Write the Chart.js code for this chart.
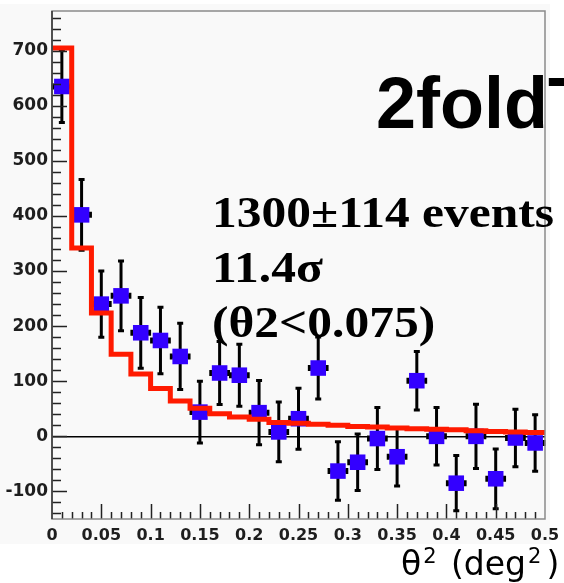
<!DOCTYPE html>
<html>
<head>
<meta charset="utf-8">
<script src="https://cdn.jsdelivr.net/npm/chart.js@4/dist/chart.umd.min.js"></script>
<style>
html,body{margin:0;padding:0;background:#ffffff;}
#wrap{width:564px;height:583px;position:relative;}
</style>
</head>
<body>
<div id="wrap"><canvas id="c" width="564" height="583"></canvas></div>
<script>
// ---- data ----
const binCenters = [0.01,0.03,0.05,0.07,0.09,0.11,0.13,0.15,0.17,0.19,0.21,0.23,0.25,0.27,0.29,0.31,0.33,0.35,0.37,0.39,0.41,0.43,0.45,0.47,0.49];
const counts     = [635,402,240,255,188,174,145,44,115,111,43,8,32,124,-63,-47,-4,-37,101,0,-85,0,-77,-3,-12];
const countErrs  = [67,66,62,65,66,62,62,58,59,58,60,56,57,58,55,53,58,55,55,54,52,60,56,54,53];
const binHalfWidth = 0.01;
const histEdges  = [0,0.02,0.04,0.06,0.08,0.10,0.12,0.14,0.16,0.18,0.20,0.22,0.24,0.26,0.28,0.30,0.32,0.34,0.36,0.38,0.40,0.42,0.44,0.46,0.48,0.50];
const histValues = [705,342,224,149,113,87,64,51,41,35,31,25,24,22,20,18,17,15,14,13,12,10,9,8,7];
const xTickLabels = ['0','0.05','0.1','0.15','0.2','0.25','0.3','0.35','0.4','0.45','0.5'];
const yTickLabels = ['-100','0','100','200','300','400','500','600','700'];
const titleText = '2foldT';
const infoLines = ['1300\u00b1114 events', '11.4\u03c3', '(\u03b82<0.075)'];
const axisTitleParts = ['\u03b8','2','(deg','2',')'];

// ---- build datasets ----
const pointData = binCenters.map((x,i)=>({x:x, y:counts[i]}));
const histData = histEdges.map((x,i)=>({x:x, y:histValues[Math.min(i, histValues.length-1)]}));

const bgPlugin = {
  id:'bg',
  beforeDraw(chart){
    const ctx = chart.ctx;
    ctx.save();
    ctx.fillStyle = '#ffffff';
    ctx.fillRect(0,0,chart.width,chart.height);
    ctx.fillStyle = '#f9f9f9';
    ctx.fillRect(0,4,550,540);
    ctx.restore();
  }
};

const errPlugin = {
  id:'errbars',
  beforeDatasetsDraw(chart){
    const ctx = chart.ctx, xs = chart.scales.x, ys = chart.scales.y;
    ctx.save();
    ctx.strokeStyle = '#000';
    ctx.lineWidth = 3;
    binCenters.forEach((xv,i)=>{
      const px = xs.getPixelForValue(xv);
      const py = ys.getPixelForValue(counts[i]);
      const top = ys.getPixelForValue(counts[i]+countErrs[i]);
      const bot = ys.getPixelForValue(counts[i]-countErrs[i]);
      const l = xs.getPixelForValue(xv-binHalfWidth);
      const r = xs.getPixelForValue(xv+binHalfWidth);
      ctx.beginPath();
      ctx.moveTo(px, top); ctx.lineTo(px, bot);
      ctx.moveTo(l, py); ctx.lineTo(r, py);
      ctx.moveTo(px-3, top+1); ctx.lineTo(px+3, top+1);
      ctx.moveTo(px-3, bot-1); ctx.lineTo(px+3, bot-1);
      ctx.moveTo(l+1, py-3); ctx.lineTo(l+1, py+3);
      ctx.moveTo(r-1, py-3); ctx.lineTo(r-1, py+3);
      ctx.stroke();
    });
    ctx.restore();
  }
};

const framePlugin = {
  id:'frame',
  afterDatasetsDraw(chart){
    const ctx = chart.ctx, a = chart.chartArea, xs = chart.scales.x, ys = chart.scales.y;
    ctx.save();
    ctx.strokeStyle = '#222';
    ctx.lineWidth = 1.5;
    ctx.beginPath();
    for (let v = -140; v <= 770; v += 20) {
      const py = Math.round(ys.getPixelForValue(v)) + 0.5;
      const len = (v % 100 === 0) ? 15 : 9;
      ctx.moveTo(a.left, py); ctx.lineTo(a.left+len, py);
    }
    for (let k = 1; k < 50; k++) {
      const px = Math.round(xs.getPixelForValue(k/100)) + 0.5;
      const len = (k % 5 === 0) ? 15 : 7;
      ctx.moveTo(px, a.bottom); ctx.lineTo(px, a.bottom-len);
    }
    ctx.stroke();
    ctx.strokeStyle = '#8a8a8a';
    ctx.lineWidth = 1.5;
    ctx.strokeRect(a.left, a.top, a.right-a.left, a.bottom-a.top);
    ctx.strokeStyle = '#333';
    ctx.beginPath(); ctx.moveTo(a.left, a.top); ctx.lineTo(a.left, a.bottom); ctx.stroke();
    ctx.restore();
  }
};

const textPlugin = {
  id:'texts',
  afterDraw(chart){
    const ctx = chart.ctx;
    ctx.save();
    ctx.fillStyle = '#000';
    ctx.textBaseline = 'alphabetic';
    ctx.textAlign = 'left';
    ctx.font = 'bold 72px "Liberation Sans", Arial, sans-serif';
    ctx.fillText(titleText, 376, 128);
    ctx.font = 'bold 45px "Liberation Serif", "Times New Roman", serif';
    infoLines.forEach((t,i)=>{
      ctx.save();
      ctx.translate(212, 227 + 55*i);
      ctx.scale(1.1, 1);
      ctx.fillText(t, 0, 0);
      ctx.restore();
    });
    // axis title: theta^2 (deg^2)
    const big = '33px "DejaVu Sans", sans-serif';
    const small = '21px "DejaVu Sans", sans-serif';
    const gaps = [0, 2, 0, 2, 5];
    let x = 401;
    axisTitleParts.forEach((t,i)=>{
      const sup = (i===1 || i===3);
      ctx.font = sup ? small : big;
      if (i === 2) x = 451;
      x += gaps[i];
      ctx.fillText(t, x, sup ? 563 : 575);
      x += ctx.measureText(t).width;
    });
    ctx.restore();
  }
};

new Chart(document.getElementById('c'), {
  data: {
    datasets: [
      {
        type: 'line',
        data: histData,
        stepped: 'before',
        borderColor: '#ff1a00',
        borderWidth: 5,
        pointRadius: 0,
        fill: false,
        order: 0
      },
      {
        type: 'scatter',
        data: pointData,
        pointStyle: 'rect',
        pointRadius: 11,
        pointBackgroundColor: '#3300ff',
        pointBorderWidth: 0,
        borderWidth: 0,
        order: 1
      }
    ]
  },
  options: {
    responsive: false,
    animation: false,
    devicePixelRatio: 1,
    layout: { padding: { top: 8, right: 19, left: 0, bottom: 0 } },
    plugins: { legend: { display: false }, tooltip: { enabled: false } },
    scales: {
      x: {
        type: 'linear',
        min: 0, max: 0.5,
        grid: { display: false, drawTicks: false },
        border: { display: false },
        ticks: {
          stepSize: 0.05,
          autoSkip: false,
          maxRotation: 0,
          padding: 7,
          color: '#1e1e1e',
          font: { family: '"DejaVu Sans", sans-serif', weight: 'bold', size: 16 },
          callback: (v) => xTickLabels[Math.round(v/0.05)] ?? ''
        },
        afterFit: (s) => { s.height = 64; s.paddingLeft = 0; s.paddingRight = 0; }
      },
      y: {
        type: 'linear',
        min: -150, max: 772,
        grid: {
          drawTicks: false,
          color: (c) => (c.tick && c.tick.value === 0) ? '#000000' : 'rgba(0,0,0,0)',
          lineWidth: 1.5
        },
        border: { display: false },
        afterBuildTicks: (s) => {
          s.ticks = yTickLabels.map(t => ({ value: Number(t) }));
        },
        ticks: {
          padding: 4,
          color: '#1e1e1e',
          font: { family: '"DejaVu Sans", sans-serif', weight: 'bold', size: 17 },
          callback: (v) => yTickLabels.includes(String(v)) ? String(v) : ''
        },
        afterFit: (s) => { s.width = 52; s.paddingTop = 0; s.paddingBottom = 0; }
      }
    }
  },
  plugins: [bgPlugin, errPlugin, framePlugin, textPlugin]
});
</script>
</body>
</html>
